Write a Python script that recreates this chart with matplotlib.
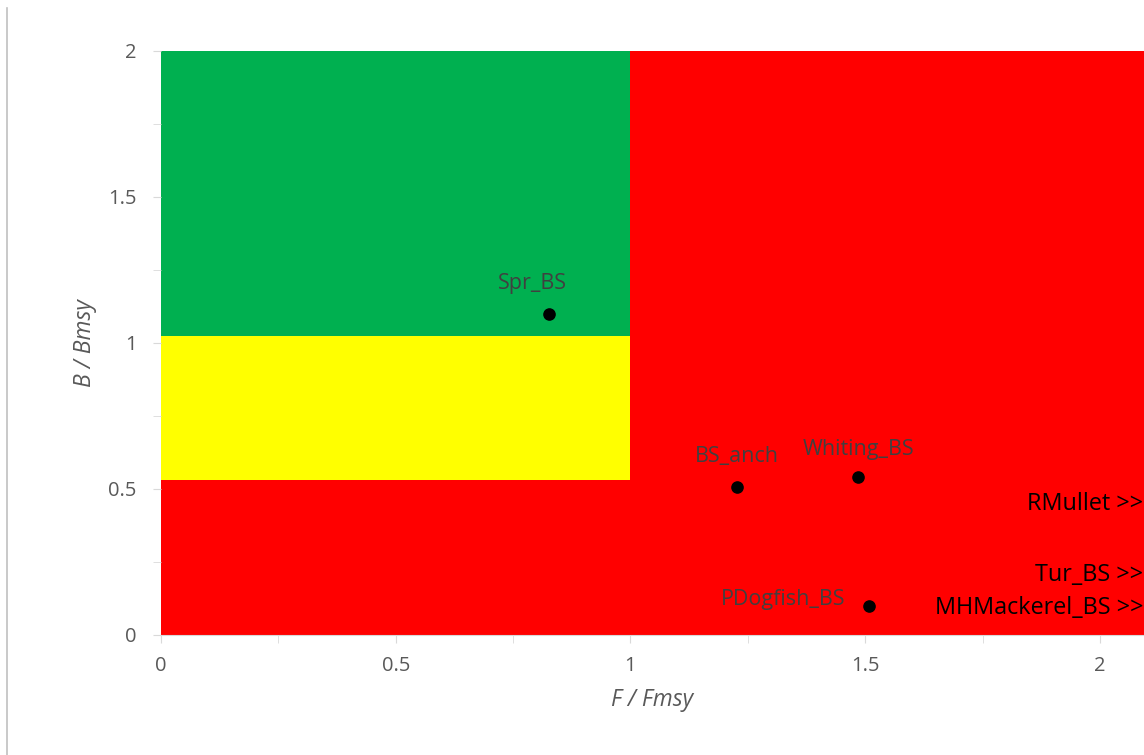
import matplotlib.pyplot as plt
from matplotlib.patches import Rectangle
from matplotlib.lines import Line2D

plt.rcParams['font.family'] = ['Open Sans', 'DejaVu Sans']

# stocks inside the plotted range
stocks = ['Spr_BS', 'BS_anch', 'Whiting_BS', 'PDogfish_BS']
f_ratio = [0.826, 1.227, 1.485, 1.508]
b_ratio = [1.099, 0.507, 0.541, 0.099]
# label offsets (points) and alignment
label_dx = [-12, 0, 0, -17]
label_dy = [22, 22, 20, 5]
label_ha = ['center', 'center', 'center', 'right']

# stocks beyond the right edge (F/Fmsy off scale)
off_stocks = ['RMullet', 'Tur_BS', 'MHMackerel_BS']
off_b = [0.45, 0.207, 0.094]

x_max = 2.094
f_lim = 1.0
b_green = 1.024
b_yellow = 0.53

fig = plt.figure(figsize=(11.44, 7.55), dpi=100)
ax = fig.add_axes([161 / 1144, 1 - 635 / 755, 1 - 161 / 1144, (635 - 51) / 755])

ax.add_patch(Rectangle((0, 0), x_max, 2, color='#ff0000', lw=0, zorder=0))
ax.add_patch(Rectangle((0, b_green), f_lim, 2 - b_green, color='#00b050', lw=0, zorder=1))
ax.add_patch(Rectangle((0, b_yellow), f_lim, b_green - b_yellow, color='#ffff00', lw=0, zorder=1))

ax.scatter(f_ratio, b_ratio, s=65, color='black', zorder=3)
for name, x, y, dx, dy, ha in zip(stocks, f_ratio, b_ratio, label_dx, label_dy, label_ha):
    ax.annotate(name, (x, y), xytext=(dx, dy), textcoords='offset points',
                ha=ha, va='center', fontsize=15.5, color='#404040', zorder=4)

for name, y in zip(off_stocks, off_b):
    ax.text(x_max - 0.002, y, name + ' >>', ha='right', va='center',
            fontsize=16.8, color='black', zorder=4)

ax.set_xlim(0, x_max)
ax.set_ylim(0, 2)
ax.set_xticks([0, 0.5, 1, 1.5, 2])
ax.set_xticklabels(['0', '0.5', '1', '1.5', '2'])
ax.set_xticks([0.25, 0.75, 1.25, 1.75], minor=True)
ax.set_yticks([0, 0.5, 1, 1.5, 2])
ax.set_yticklabels(['0', '0.5', '1', '1.5', '2'])
ax.set_yticks([0.25, 0.75, 1.25, 1.75], minor=True)

for s in ['top', 'right', 'left']:
    ax.spines[s].set_visible(False)
ax.spines['bottom'].set_color('#d9d9d9')
ax.tick_params(which='both', length=6, color='#d9d9d9', labelsize=14.5,
               labelcolor='#595959')
ax.tick_params(axis='x', pad=9)
ax.tick_params(axis='y', pad=11.5)

ax.set_xlabel('F / Fmsy', fontsize=16.5, style='italic', color='#595959', labelpad=9)
ax.set_ylabel('B / Bmsy', fontsize=16.5, style='italic', color='#595959', labelpad=8)

fig.add_artist(Line2D([6.5 / 1144, 6.5 / 1144], [0, 1 - 8 / 755],
                      color='#c0c0c0', lw=1.2, transform=fig.transFigure))

fig.savefig('out.png', dpi=100)
